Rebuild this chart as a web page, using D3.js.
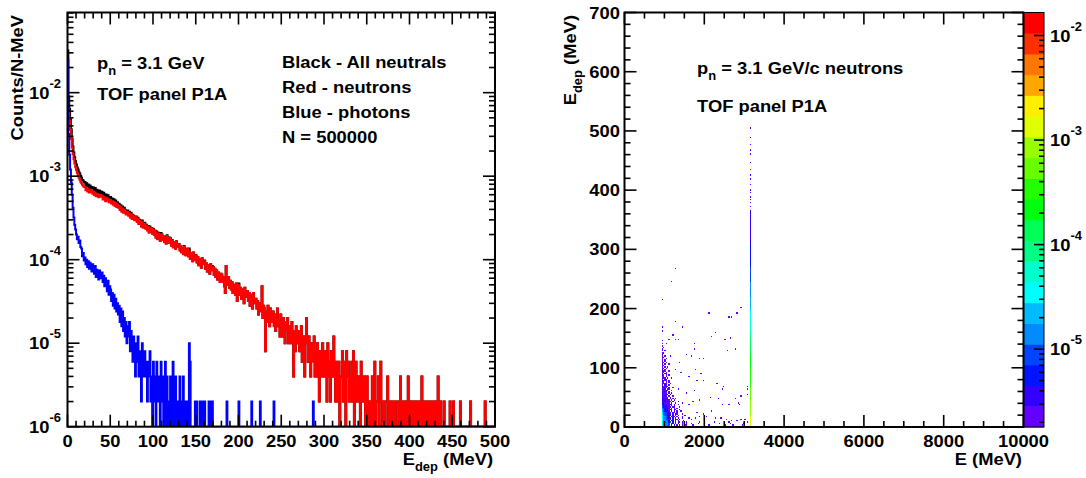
<!DOCTYPE html>
<html lang="en">
<head>
  <meta charset="UTF-8">
  <title>TOF panel P1A</title>
  <style>
    body { margin: 0; background: #fff; }
    text { font-family: "Liberation Sans", Arial, sans-serif; font-weight: bold; fill: #000; }
  </style>
</head>
<body>
  <svg id="chart" width="1086" height="478"></svg>
<script src="https://cdn.jsdelivr.net/npm/d3@7"></script>
<script>
  // ---------- data ----------
  const nEvents = 500000

  // E_dep spectrum, counts per 1 MeV bin, 0..500 MeV
  const neutronCounts = [
    3700, 2900, 2300, 1800, 1400, 1100, 920, 800, 710, 640,
    590, 545, 505, 478, 452, 430, 412, 396, 383, 371,
    372, 340, 361, 328, 349, 318, 341, 322, 336, 309,
    325, 298, 318, 287, 306, 301, 279, 299, 283, 294,
    289, 262, 284, 270, 251, 276, 255, 268, 243, 257,
    259, 236, 251, 228, 245, 219, 238, 214, 229, 210,
    219, 197, 212, 188, 205, 183, 199, 192, 174, 186,
    186, 168, 179, 160, 175, 154, 170, 161, 148, 163,
    159, 141, 153, 134, 146, 138, 125, 142, 121, 133,
    134, 117, 128, 112, 124, 105, 121, 109, 118, 103,
    114, 99, 110, 92, 106, 88, 103, 97, 84, 101,
    99, 86, 95, 81, 92, 78, 96, 85, 79, 91,
    88, 74, 85, 70, 81, 76, 67, 83, 71, 77,
    76, 64, 73, 61, 69, 58, 72, 63, 56, 66,
    67, 55, 63, 51, 60, 57, 48, 61, 50, 56,
    56, 46, 54, 43, 51, 47, 40, 52, 44, 48,
    48, 39, 45, 36, 43, 40, 34, 44, 37, 41,
    41, 33, 39, 31, 37, 29, 35, 32, 27, 34,
    33, 27, 31, 24, 20, 42, 29, 25, 31, 23,
    28, 22, 27, 20, 25, 23, 19, 26, 16, 24,
    25, 19, 23, 17, 22, 20, 15, 23, 18, 21,
    21, 16, 20, 14, 19, 17, 13, 20, 15, 17,
    17, 13, 16, 11, 15, 12, 14, 24, 10, 14,
    13, 4, 12, 9, 14, 10, 8, 13, 11, 9,
    12, 8, 11, 7, 10, 13, 8, 9, 6, 11,
    9, 6, 10, 8, 5, 9, 7, 10, 5, 8,
    8, 5, 9, 6, 2, 7, 4, 8, 6, 5,
    7, 4, 6, 8, 3, 6, 5, 2, 6, 10,
    5, 3, 6, 4, 2, 5, 4, 3, 6, 2,
    4, 2, 5, 3, 1, 4, 3, 2, 5, 2,
    2, 4, 3, 1, 5, 2, 3, 1, 4, 2,
    3, 6, 2, 1, 3, 2, 1, 3, 0, 2,
    2, 4, 1, 3, 2, 0, 4, 2, 3, 1,
    2, 1, 3, 1, 4, 0, 1, 3, 2, 1,
    1, 2, 0, 3, 1, 1, 2, 1, 0, 2,
    2, 0, 1, 1, 0, 1, 2, 0, 1, 3,
    0, 1, 1, 2, 0, 1, 3, 1, 0, 1,
    1, 0, 1, 1, 2, 0, 1, 0, 1, 0,
    1, 0, 1, 0, 1, 1, 1, 0, 0, 2,
    0, 1, 0, 1, 0, 1, 1, 0, 2, 0,
    1, 0, 1, 1, 0, 1, 0, 1, 0, 0,
    1, 0, 0, 1, 2, 0, 1, 0, 0, 1,
    0, 1, 0, 0, 1, 0, 0, 1, 0, 0,
    1, 0, 0, 2, 0, 0, 1, 0, 0, 0,
    1, 0, 0, 0, 0, 0, 0, 1, 0, 0,
    0, 1, 0, 0, 0, 0, 0, 0, 0, 1,
    0, 0, 0, 0, 0, 0, 0, 0, 0, 0,
    0, 1, 0, 0, 0, 0, 0, 0, 0, 0,
    0, 0, 0, 0, 0, 0, 0, 0, 1, 0,
    0, 0, 0, 0, 0, 0, 0, 0, 0, 0
  ]

  const photonCounts = [
    12300, 1600, 900, 600, 420, 300, 210, 160, 130, 115,
    100, 88, 94, 79, 85, 71, 68, 55, 60, 49,
    53, 44, 50, 41, 48, 39, 46, 42, 36, 44,
    40, 34, 42, 31, 38, 35, 29, 37, 30, 33,
    35, 27, 32, 24, 30, 26, 21, 28, 19, 24,
    22, 16, 20, 14, 19, 13, 17, 12, 15, 11,
    14, 9, 13, 8, 12, 7, 10, 6, 9, 5,
    8, 6, 9, 4, 7, 5, 3, 6, 4, 2,
    5, 3, 6, 2, 4, 3, 1, 5, 2, 3,
    4, 2, 3, 1, 3, 2, 4, 1, 2, 0,
    3, 1, 2, 0, 3, 1, 2, 1, 0, 3,
    1, 2, 0, 1, 3, 0, 2, 1, 0, 1,
    2, 0, 1, 3, 0, 1, 2, 0, 1, 0,
    1, 2, 0, 1, 0, 2, 1, 0, 1, 0,
    1, 0, 5, 3, 0, 0, 0, 0, 0, 1,
    0, 1, 0, 0, 0, 1, 0, 0, 1, 0,
    1, 0, 0, 0, 0, 1, 0, 0, 1, 1,
    0, 0, 0, 0, 0, 0, 0, 0, 0, 0,
    0, 0, 0, 0, 0, 0, 1, 0, 0, 0,
    0, 0, 0, 0, 0, 0, 0, 0, 0, 0,
    1, 0, 0, 0, 0, 0, 0, 0, 0, 0,
    0, 0, 0, 0, 0, 1, 0, 0, 0, 0,
    0, 0, 0, 0, 0, 1, 0, 0, 0, 0,
    0, 0, 0, 0, 0, 0, 0, 0, 0, 0,
    0, 1, 0, 0, 0, 0, 0, 0, 0, 0,
    0, 0, 0, 0, 0, 0, 0, 0, 0, 0,
    0, 0, 0, 0, 0, 0, 0, 0, 0, 0,
    0, 0, 0, 0, 0, 0, 0, 0, 0, 0,
    0, 0, 0, 0, 0, 0, 0, 1, 0, 0,
    0, 0, 0, 0, 0, 0, 0, 0, 0, 0,
    0, 0, 0, 0, 0, 0, 0, 0, 0, 0,
    0, 0, 0, 0, 0, 0, 0, 0, 0, 0,
    0, 0, 0, 0, 0, 0, 0, 0, 0, 0,
    0, 0, 0, 0, 0, 0, 0, 0, 0, 0,
    0, 0, 0, 0, 0, 0, 0, 0, 0, 0,
    0, 0, 0, 0, 0, 0, 0, 0, 0, 0,
    0, 0, 0, 0, 0, 0, 0, 0, 0, 0,
    0, 0, 0, 0, 0, 0, 0, 0, 0, 0,
    0, 0, 0, 0, 0, 0, 0, 0, 0, 0,
    0, 0, 0, 0, 0, 0, 0, 0, 0, 0,
    0, 0, 0, 0, 0, 0, 0, 0, 0, 0,
    0, 0, 0, 0, 0, 0, 0, 0, 0, 0,
    0, 0, 0, 0, 0, 0, 0, 0, 0, 0,
    0, 0, 0, 0, 0, 0, 0, 0, 0, 0,
    0, 0, 0, 0, 0, 0, 0, 0, 0, 0,
    0, 0, 0, 0, 0, 0, 0, 0, 0, 0,
    0, 0, 0, 0, 0, 0, 0, 0, 0, 0,
    0, 0, 0, 0, 0, 0, 0, 0, 0, 0,
    0, 0, 0, 0, 0, 0, 0, 0, 0, 0,
    0, 0, 0, 0, 0, 0, 0, 0, 0, 0
  ]

  // all neutrals = neutrons + photons
  const allCounts = neutronCounts.map((c, i) => c + photonCounts[i])

  const leftNotes = ["TOF panel P1A"]
  const legendLines = ["Black - All neutrals", "Red - neutrons", "Blue - photons", "N = 500000"]

  // 2D histogram E vs E_dep, 300 x 300 bins, entries per bin
  const eBin = 10000 / 300
  const edepBin = 700 / 300

  // full-energy column at E ~ 3150 MeV: [E_dep from, E_dep to, entries per bin]
  const lineE = 3150
  const lineRuns = [
    [0, 5, 1100], [5, 20, 650], [20, 45, 400], [45, 70, 250], [70, 100, 165],
    [100, 125, 105], [125, 145, 65], [145, 160, 43], [160, 180, 27], [180, 200, 17],
    [200, 220, 11], [220, 245, 7], [245, 272, 4], [272, 310, 3], [310, 367, 2]
  ]
  const lineSingles = [372, 378, 384, 389, 395, 401, 409, 418, 426, 435, 446, 460, 468, 477, 488, 505]

  // dense cluster at low E: E bins 28..47, rows are E_dep bins (top row = bin 62),
  // one character per cell, entries in base 36 ('.' = empty)
  const clusterFirstBin = 28
  const clusterRows = [
    "1...................",
    "....................",
    "1..1................",
    "....................",
    "1...................",
    ".1..................",
    "1...................",
    "1.1.................",
    "....................",
    "11..................",
    "1...................",
    "1.1...1.............",
    "11..................",
    "1..1................",
    "1.1.................",
    "1.1.................",
    "11.1................",
    "1.1..1..............",
    "11..................",
    "1.1.1...............",
    "11.1................",
    "1.1.......1.........",
    "111..1..............",
    "11.1................",
    "1.11................",
    "21.1.1..............",
    "11.1................",
    "111.1..1............",
    "1.21................",
    "2111.1..............",
    "11.1.1..............",
    "1111..1.............",
    "1.21.1..............",
    "21111...............",
    "1111.1..1...........",
    "212.11..............",
    "11121..1............",
    "2121.1..............",
    "2111.1.1............",
    "11121.1.............",
    "2121.1..1...........",
    "12112.1.............",
    "21121.1.1.1.........",
    "222111.1.1..........",
    "3121211.1...1.......",
    "221121.1..1.........",
    "33121121.1..1.......",
    "432211.1.1..........",
    "5322112.11...1......",
    "642221.1.1.1........",
    "b5322121.21..1......",
    "c43321.2.1.1..1.....",
    "d644213.11.1........",
    "e545321.1.21...1....",
    "f654332.2.1.1.......",
    "g76442.212.1...1....",
    "f865323.2.1.1..1....",
    "h875414.2.21.1......",
    "g88653.32.2.1...1...",
    "h876624.3.1.11.1....",
    "i98774.43.2.1..1..1.",
    "j98875.3.2.1.1.1..1.",
    "ka9863.4.3.2.1.1.1.."
  ]

  // isolated entries: [E, E_dep]
  const scatterPoints = [
    [1291, 268], [1199, 246], [948, 216], [2101, 193], [2627, 186], [2694, 186],
    [2803, 192], [2928, 202], [1274, 179], [950, 169], [950, 162], [1449, 168],
    [2276, 160], [2176, 153], [1208, 155], [1108, 148], [1274, 148], [1357, 148],
    [2511, 149], [2644, 150], [1750, 141], [2777, 133], [2576, 129], [1742, 131],
    [1559, 122], [1692, 119], [1892, 115], [2000, 115], [1391, 108], [1792, 97],
    [1408, 92], [1910, 89], [1624, 85], [1975, 79], [1809, 77], [2301, 74],
    [2476, 69], [2460, 65], [1559, 57], [1742, 62], [1360, 63], [3095, 69],
    [3095, 63], [3095, 55], [2928, 52], [2142, 51], [2359, 48], [2785, 47],
    [2845, 40], [1892, 45], [1725, 42], [1449, 41], [2895, 39], [2611, 39],
    [2460, 38], [1624, 38], [2175, 27], [1975, 21], [1809, 24], [2040, 17],
    [2290, 15], [2410, 14], [2545, 13], [2680, 11], [2810, 10], [3010, 13],
    [2920, 12], [1500, 20], [1600, 16], [1700, 12], [1780, 15], [1870, 18],
    [1650, 1], [1720, 3], [1800, 1], [1850, 5], [1950, 2], [2050, 1],
    [2120, 4], [2210, 1], [2330, 2], [2420, 1], [2500, 3], [2560, 1],
    [2650, 6], [2750, 2], [2870, 1], [2960, 4], [3050, 1], [3080, 8],
    [1550, 7], [1450, 9], [1520, 3], [1680, 6], [2250, 7], [2380, 5],
    [2600, 9], [2720, 4], [1900, 8], [2980, 6]
  ]

  const rightNotes = ["TOF panel P1A"]

  // ---------- drawing ----------
  const svg = d3.select("#chart")
  const fontSize = 17, smallSize = 12, stretch = 1.08

  function label(parent, x, y, pieces, opt = {}) {
    const t = parent.append("text")
      .attr("transform", `translate(${x},${y})` + (opt.rotate ? ` rotate(${opt.rotate})` : "") + ` scale(${stretch},1)`)
      .attr("text-anchor", opt.anchor || "start")
      .style("font-size", fontSize + "px")
    let shift = 0
    pieces.forEach(p => {
      const [s, kind] = typeof p === "string" ? [p, 0] : p
      const target = kind === 1 ? -11 : kind === -1 ? 6 : 0
      t.append("tspan")
        .attr("dy", target - shift)
        .style("font-size", kind ? smallSize + "px" : null)
        .text(s)
      shift = target
    })
    return t
  }

  function tick(parent, x1, y1, x2, y2) {
    parent.append("line")
      .attr("x1", x1).attr("y1", y1).attr("x2", x2).attr("y2", y2)
      .attr("stroke", "#000").attr("stroke-width", 1.6)
  }

  // ---- left panel ----
  const xL = d3.scaleLinear().domain([0, 500]).range([67.5, 495])
  const yL = d3.scaleLog().domain([1e-6, 0.0912]).range([426.7, 12.5])
  const left = svg.append("g")

  svg.append("clipPath").attr("id", "clipL").append("rect")
     .attr("x", 67.5).attr("y", 12.5).attr("width", 427.5).attr("height", 414.2)

  const toPoints = counts => {
    const pts = counts.map((c, i) => [i, Math.max(c / nEvents, 1e-6)])
    pts.push([counts.length, pts[pts.length - 1][1]])
    return pts
  }
  const step = d3.line().x(d => xL(d[0])).y(d => yL(d[1])).curve(d3.curveStepAfter)

  const series = [
    { counts: allCounts, color: "#000000" },
    { counts: neutronCounts, color: "#ff0000" },
    { counts: photonCounts, color: "#0000ff" }
  ]
  left.append("g").attr("clip-path", "url(#clipL)")
      .selectAll("path")
      .data(series)
      .enter()
      .append("path")
      .attr("d", d => step(toPoints(d.counts)))
      .attr("fill", "none")
      .attr("stroke", d => d.color)
      .attr("stroke-width", 2)

  // x ticks (both sides)
  d3.range(0, 501, 10).forEach(v => {
    const len = v % 50 === 0 ? 12 : 6
    tick(left, xL(v), 426.7, xL(v), 426.7 - len)
    tick(left, xL(v), 12.5, xL(v), 12.5 + len)
  })
  d3.range(0, 501, 50).forEach(v => label(left, xL(v), 446.7, [String(v)], { anchor: "middle" }))

  // log y ticks (both sides)
  for (let n = -6; n <= -2; n++) {
    for (let k = 1; k <= 9; k++) {
      const v = k * Math.pow(10, n)
      if (v > 0.0912) continue
      const len = k === 1 ? 12 : 6
      tick(left, 67.5, yL(v), 67.5 + len, yL(v))
      tick(left, 495, yL(v), 495 - len, yL(v))
    }
    label(left, 61, yL(Math.pow(10, n)) + 6, ["10", [String(n), 1]], { anchor: "end" })
  }
  left.append("rect").attr("x", 67.5).attr("y", 12.5).attr("width", 427.5).attr("height", 414.2)
      .attr("fill", "none").attr("stroke", "#000").attr("stroke-width", 2)

  label(left, 493, 465, ["E", ["dep", -1], " (MeV)"], { anchor: "end" })
  label(left, 23, 15, ["Counts/N-MeV"], { anchor: "end", rotate: -90 })

  label(left, 97, 68.5, ["p", ["n", -1], " = 3.1 GeV"])
  leftNotes.forEach((s, i) => label(left, 97, 100 + i * 25, [s]))
  legendLines.forEach((s, i) => label(left, 282, 68 + i * 25, [s]))

  // ---- right panel ----
  const xR = d3.scaleLinear().domain([0, 10000]).range([624.5, 1023.5])
  const yR = d3.scaleLinear().domain([0, 700]).range([427, 12.5])
  const zMin = 1.8e-6, zMax = 0.0166, nContours = 20
  const zAxis = d3.scaleLog().domain([zMin, zMax]).range([427, 12.5])
  const right = svg.append("g")

  // ROOT-like palette: 50 hues, 20 contour bands
  const bandColor = j => {
    const idx = Math.floor((j + 0.99) * 50 / nContours)
    return d3.hsl(280 - (idx + 1) * 5.6, 1, 0.5).formatHex()
  }
  const bandOf = z => Math.min(nContours - 1, Math.floor(Math.log10(z / zMin) / (Math.log10(zMax / zMin) / nContours)))

  // collect 2D cells keyed by bin
  const cells = new Map()
  const addCell = (ib, jb, n) => {
    const key = ib + "," + jb
    cells.set(key, { ib, jb, n: (cells.get(key)?.n || 0) + n })
  }
  const lineBin = Math.floor(lineE / eBin)
  lineRuns.forEach(([lo, hi, n]) => {
    for (let j = Math.floor(lo / edepBin); j < Math.floor(hi / edepBin); j++) addCell(lineBin, j, n)
  })
  lineSingles.forEach(ed => addCell(lineBin, Math.floor(ed / edepBin), 1))
  clusterRows.forEach((row, r) => {
    const jb = clusterRows.length - 1 - r
    row.split("").forEach((ch, c) => {
      if (ch !== ".") addCell(clusterFirstBin + c, jb, parseInt(ch, 36))
    })
  })
  scatterPoints.forEach(([e, ed]) => addCell(Math.floor(e / eBin), Math.floor(ed / edepBin), 1))

  right.append("g")
       .selectAll("rect")
       .data(Array.from(cells.values()).filter(d => d.n / nEvents >= zMin))
       .enter()
       .append("rect")
       .attr("x", d => xR(d.ib * eBin))
       .attr("y", d => yR((d.jb + 1) * edepBin))
       .attr("width", d => xR((d.ib + 1) * eBin) - xR(d.ib * eBin))
       .attr("height", d => yR(d.jb * edepBin) - yR((d.jb + 1) * edepBin))
       .attr("fill", d => bandColor(bandOf(d.n / nEvents)))
       .attr("shape-rendering", "crispEdges")

  // x ticks
  d3.range(0, 10001, 500).forEach(v => {
    const len = v % 2000 === 0 ? 12 : 6
    tick(right, xR(v), 427, xR(v), 427 - len)
    tick(right, xR(v), 12.5, xR(v), 12.5 + len)
  })
  d3.range(0, 10001, 2000).forEach(v => label(right, xR(v), 446.7, [String(v)], { anchor: "middle" }))
  // y ticks
  d3.range(0, 701, 20).forEach(v => {
    const len = v % 100 === 0 ? 12 : 6
    tick(right, 624.5, yR(v), 624.5 + len, yR(v))
    tick(right, 1023.5, yR(v), 1023.5 - len, yR(v))
  })
  d3.range(0, 701, 100).forEach(v => label(right, 620, yR(v) + 6, [String(v)], { anchor: "end" }))
  right.append("rect").attr("x", 624.5).attr("y", 12.5).attr("width", 399).attr("height", 414.5)
       .attr("fill", "none").attr("stroke", "#000").attr("stroke-width", 2)

  // palette
  const palX = 1024, palW = 20
  const bandH = (427 - 12.5) / nContours
  right.append("g")
       .selectAll("rect")
       .data(d3.range(nContours))
       .enter()
       .append("rect")
       .attr("x", palX)
       .attr("y", j => 427 - (j + 1) * bandH)
       .attr("width", palW)
       .attr("height", bandH + 0.5)
       .attr("fill", j => bandColor(j))
  right.append("rect").attr("x", palX).attr("y", 12.5).attr("width", palW).attr("height", 414.5)
       .attr("fill", "none").attr("stroke", "#000").attr("stroke-width", 1)
  for (let n = -6; n <= -2; n++) {
    for (let k = 1; k <= 9; k++) {
      const v = k * Math.pow(10, n)
      if (v < zMin || v > zMax) continue
      tick(right, palX + palW, zAxis(v), palX + palW - (k === 1 ? 10 : 5), zAxis(v))
    }
    if (Math.pow(10, n) >= zMin) label(right, 1050, zAxis(Math.pow(10, n)) + 6, ["10", [String(n), 1]])
  }

  label(right, 1022, 465, ["E (MeV)"], { anchor: "end" })
  label(right, 576, 15, ["E", ["dep", -1], " (MeV)"], { anchor: "end", rotate: -90 })
  label(right, 697, 74, ["p", ["n", -1], " = 3.1 GeV/c neutrons"])
  rightNotes.forEach((s, i) => label(right, 697, 112 + i * 25, [s]))
</script>
</body>
</html>
